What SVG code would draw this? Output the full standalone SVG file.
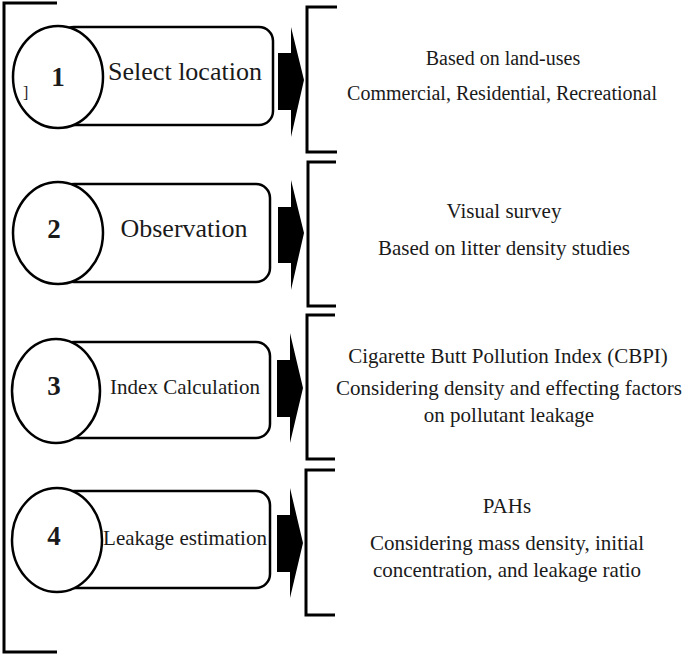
<svg xmlns="http://www.w3.org/2000/svg" width="685" height="656" viewBox="0 0 685 656" font-family="'Liberation Serif', 'DejaVu Serif', serif">
<style>
text{font-family:'Liberation Serif','DejaVu Serif',serif;fill:#1a1a1a}
.num{font-weight:bold;font-size:27px;text-anchor:middle}
.lbl{text-anchor:middle}
.desc{font-size:21px;text-anchor:middle}
.desc.s20{font-size:20px}
.box{fill:#fff;stroke:#000;stroke-width:2.5}
.circ{fill:#fff;stroke:#000;stroke-width:2.5}
.br{fill:none;stroke:#000;stroke-width:3}
.arr{fill:#000}
</style>
<rect width="685" height="656" fill="#fff"/>
<path class="br" d="M57,3 H4 V652 H57"/>

<g id="node1">
<rect class="box" x="60" y="27" width="213" height="98" rx="14"/>
<ellipse class="circ" cx="58" cy="77" rx="45" ry="51"/>
<text class="num" x="58" y="86">1</text>
<text x="23" y="98" font-size="16" fill="#333">]</text>
<text class="lbl" x="185" y="80" font-size="26">Select location</text>
</g>
<g id="node2">
<rect class="box" x="60" y="184" width="210" height="98" rx="14"/>
<ellipse class="circ" cx="58" cy="233" rx="45" ry="51"/>
<text class="num" x="54" y="238">2</text>
<text class="lbl" x="184" y="237" font-size="26">Observation</text>
</g>
<g id="node3">
<rect class="box" x="60" y="342" width="210" height="96" rx="14"/>
<ellipse class="circ" cx="56" cy="391" rx="44" ry="52"/>
<text class="num" x="54" y="395">3</text>
<text class="lbl" x="185" y="394" font-size="21">Index Calculation</text>
</g>
<g id="node4">
<rect class="box" x="60" y="491" width="210" height="97" rx="14"/>
<ellipse class="circ" cx="57" cy="540" rx="45" ry="52"/>
<text class="num" x="54" y="545">4</text>
<text class="lbl" x="185" y="545" font-size="21">Leakage estimation</text>
</g>

<g id="connectors">
<path class="arr" d="M278,53 H291 V27 L304,80 L291,137 V110 H278 Z"/>
<path class="arr" d="M278,207 H291 V180 L304,233 L291,290 V263 H278 Z"/>
<path class="arr" d="M277,360 H290 V333 L303,388 L290,443 V417 H277 Z"/>
<path class="arr" d="M277,515 H290 V488 L303,543 L290,598 V572 H277 Z"/>
</g>

<g id="desc1">
<path class="br" d="M337,7 H307 V152 H337"/>
<text class="desc s20" x="503" y="65">Based on land-uses</text>
<text class="desc s20" x="502" y="100">Commercial, Residential, Recreational</text>
</g>
<g id="desc2">
<path class="br" d="M336,162 H308 V306 H336"/>
<text class="desc" x="504" y="218">Visual survey</text>
<text class="desc" x="504" y="255">Based on litter density studies</text>
</g>
<g id="desc3">
<path class="br" d="M335,315 H307 V459 H335"/>
<text class="desc" x="508" y="363">Cigarette Butt Pollution Index (CBPI)</text>
<text class="desc" x="509" y="395">Considering density and effecting factors</text>
<text class="desc" x="509" y="422">on pollutant leakage</text>
</g>
<g id="desc4">
<path class="br" d="M335,470 H306 V615 H335"/>
<text class="desc" x="507" y="513">PAHs</text>
<text class="desc" x="507" y="550">Considering mass density, initial</text>
<text class="desc" x="507" y="577">concentration, and leakage ratio</text>
</g>
</svg>
